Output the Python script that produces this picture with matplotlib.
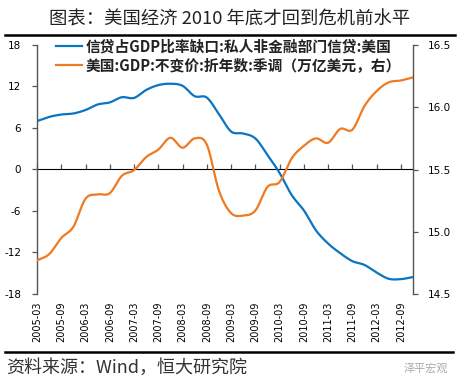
import numpy as np
import matplotlib
matplotlib.use('Agg')
import matplotlib.pyplot as plt
from matplotlib.lines import Line2D

plt.rcParams['font.family'] = ['Noto Sans CJK SC', 'DejaVu Sans']

# ---- data (quarterly, 2005Q1 .. 2012Q4) ----
quarters = ['2005-03', '2005-06', '2005-09', '2005-12', '2006-03', '2006-06', '2006-09', '2006-12',
            '2007-03', '2007-06', '2007-09', '2007-12', '2008-03', '2008-06', '2008-09', '2008-12',
            '2009-03', '2009-06', '2009-09', '2009-12', '2010-03', '2010-06', '2010-09', '2010-12',
            '2011-03', '2011-06', '2011-09', '2011-12', '2012-03', '2012-06', '2012-09', '2012-12']
credit_gap = [7.0, 7.6, 7.95, 8.1, 8.6, 9.4, 9.7, 10.45, 10.35, 11.5, 12.2, 12.4, 12.1, 10.6, 10.4, 8.0,
              5.5, 5.2, 4.5, 2.1, -0.5, -3.7, -5.9, -8.8, -10.7, -12.1, -13.25, -13.8, -14.9, -15.8, -15.85, -15.55]
gdp = [14.77, 14.82, 14.95, 15.04, 15.265, 15.30, 15.31, 15.45, 15.495, 15.6, 15.66, 15.755, 15.675, 15.75, 15.70, 15.33,
       15.15, 15.13, 15.17, 15.36, 15.40, 15.59, 15.69, 15.75, 15.715, 15.826, 15.82, 16.01, 16.13, 16.20, 16.215, 16.24]
label_credit = '信贷占GDP比率缺口:私人非金融部门信贷:美国'
label_gdp = '美国:GDP:不变价:折年数:季调（万亿美元，右）'
title = '图表：美国经济 2010 年底才回到危机前水平'
source = '资料来源：Wind，恒大研究院'
left_ticks = [-18, -12, -6, 0, 6, 12, 18]
right_ticks = [14.5, 15.0, 15.5, 16.0, 16.5]

BLUE = '#0A74C4'
ORANGE = '#EE7A22'
AXC = '#555555'


def smooth(y, n=12):
    """Catmull-Rom smoothing of a series (like Excel smoothed lines)."""
    y = np.asarray(y, float)
    p = np.concatenate([[2 * y[0] - y[1]], y, [2 * y[-1] - y[-2]]])
    xs, ys = [], []
    t = np.linspace(0, 1, n, endpoint=False)
    for i in range(len(y) - 1):
        p0, p1, p2, p3 = p[i], p[i + 1], p[i + 2], p[i + 3]
        yy = 0.5 * ((2 * p1) + (-p0 + p2) * t + (2 * p0 - 5 * p1 + 4 * p2 - p3) * t ** 2 +
                    (-p0 + 3 * p1 - 3 * p2 + p3) * t ** 3)
        xs.append(i + t)
        ys.append(yy)
    xs.append([len(y) - 1])
    ys.append([y[-1]])
    return np.concatenate(xs), np.concatenate(ys)


fig = plt.figure(figsize=(4.63, 3.88), dpi=100)
ax = fig.add_axes([37 / 463, 1 - 294 / 388, (413 - 37) / 463, (294 - 45) / 388])
ax2 = ax.twinx()

x = np.arange(len(quarters))
sx, sy = smooth(credit_gap)
ax.plot(sx, sy, color=BLUE, lw=1.6, solid_capstyle='round')
sx2, sy2 = smooth(gdp)
ax2.plot(sx2, sy2, color=ORANGE, lw=1.6, solid_capstyle='round')

ax.set_xlim(0, len(quarters) - 1)
ax.set_ylim(-18, 18)
ax2.set_ylim(14.5, 16.5)
ax.set_yticks(left_ticks)
ax.set_yticklabels([str(v) for v in left_ticks])
ax2.set_yticks(right_ticks)
ax2.set_yticklabels([f'{v:.1f}' for v in right_ticks])

ax.set_xticks(x[::2])
ax.set_xticklabels(quarters[::2], rotation=90, fontsize=7, family='DejaVu Sans')
ax.tick_params(axis='x', length=0, pad=5.5)
ax.tick_params(axis='y', direction='out', length=3.5, width=0.9, color=AXC, labelsize=7.5, pad=8)
ax2.tick_params(axis='y', direction='out', length=3.5, width=0.9, color=AXC, labelsize=7.5, pad=7)
for lab in ax.get_yticklabels() + ax2.get_yticklabels():
    lab.set_family('DejaVu Sans')

for a in (ax, ax2):
    a.spines['top'].set_visible(False)
    a.spines['bottom'].set_visible(False)
    a.patch.set_visible(False)
ax2.spines['left'].set_visible(False)
ax.spines['right'].set_visible(False)
ax.spines['left'].set_color(AXC)
ax2.spines['right'].set_color(AXC)
ax.spines['left'].set_linewidth(1.0)
ax2.spines['right'].set_linewidth(1.0)

# zero line with category ticks
sec = ax.secondary_xaxis(0.5)
sec.set_xticks(x[::2])
sec.set_xticklabels([])
sec.tick_params(axis='x', direction='out', length=3.5, width=0.9, color=AXC)
sec.spines['bottom'].set_color(AXC)
sec.spines['bottom'].set_linewidth(1.0)

handles = [Line2D([], [], color=BLUE, lw=1.6), Line2D([], [], color=ORANGE, lw=1.6)]
leg = ax.legend(handles, [label_credit, label_gdp], loc='upper left', bbox_to_anchor=(0.05, 1.028),
                frameon=False, borderaxespad=0, borderpad=0, handlelength=1.75, handletextpad=0.3,
                labelspacing=0.2, prop={'size': 10.6, 'weight': 'bold'})
for t in leg.get_texts():
    t.set_color('#222222')

fig.text(0.497, 1 - 20 / 388, title, ha='center', va='center', fontsize=13.2, color='#222222')
fig.add_artist(Line2D([5 / 463, 455 / 463], [1 - 34.5 / 388] * 2, color='black', lw=1.8))
fig.add_artist(Line2D([5 / 463, 453 / 463], [1 - 351.7 / 388] * 2, color='black', lw=1.8))
fig.text(6 / 463, 1 - 368 / 388, source, ha='left', va='center', fontsize=13, style='italic', color='#333333')
fig.text(448 / 463, 1 - 368 / 388, '泽平宏观', ha='right', va='center', fontsize=8, color='#aaaaaa')

fig.savefig('out.png', dpi=100)
